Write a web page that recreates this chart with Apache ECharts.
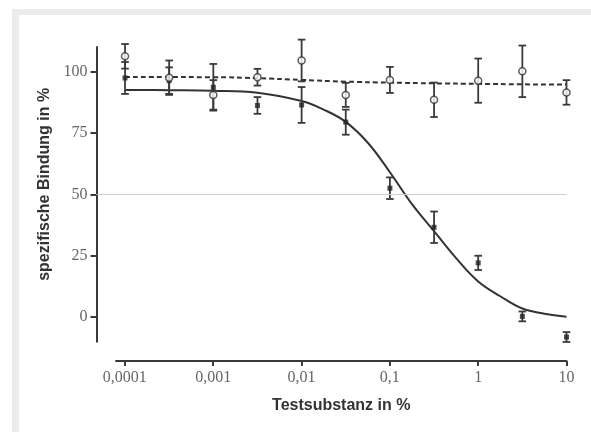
<!DOCTYPE html>
<html>
<head>
<meta charset="utf-8">
<script src="https://cdn.jsdelivr.net/npm/echarts@6/dist/echarts.min.js"></script>
<style>
  html, body { margin: 0; padding: 0; background: #fff; }
  .frame {
    position: absolute; left: 12px; top: 9px; right: 0; bottom: 0;
    border-top: 6px solid #ececec; border-left: 7px solid #ececec;
  }
  #chart { position: absolute; left: 0; top: 0; width: 591px; height: 432px; }
</style>
</head>
<body>
<div class="frame"></div>
<div id="chart"></div>
<script>
// Konzentrationen als log10-Werte (0,0001 ... 10 %, halbe Dekaden)
const logConc = [-4, -3.5, -3, -2.5, -2, -1.5, -1, -0.5, 0, 0.5, 1]

// gefüllte Quadrate (Mittelwert, Fehler)
const filledMean = [97.4, 96.3, 93.6, 86.2, 86.4, 79.4, 52.5, 36.6, 22.1, 0.3, -8.1]
const filledErr = [6.5, 5.4, 9.5, 3.4, 7.3, 5.1, 4.4, 6.4, 2.9, 2.0, 2.0]

// offene Kreise (Mittelwert, Fehler)
const openMean = [106.2, 97.5, 90.5, 97.7, 104.5, 90.5, 96.6, 88.5, 96.3, 100.1, 91.5]
const openErr = [5.0, 7.0, 6.0, 3.4, 8.5, 4.9, 5.3, 7.0, 9.0, 10.5, 5.0]

// Kurven
const fitX = [-4, -3.5, -3, -2.5, -2, -1.75, -1.5, -1.25, -1, -0.75, -0.5, -0.25, 0, 0.25, 0.5, 0.75, 1]
const fitSolid = [92.5, 92.4, 92.2, 91.4, 88.0, 84.5, 79.5, 71.0, 59.0, 46.0, 35.0, 24.0, 14.5, 8.5, 3.5, 1.4, 0.2]
const fitDashX = [-4, -3, -2.5, -2, -1.5, -1, -0.5, 0, 0.5, 1]
const fitDashed = [97.8, 97.7, 97.3, 96.6, 95.9, 95.5, 95.2, 95.0, 94.8, 94.7]

// Achsen
const xTickValues = [-4, -3, -2, -1, 0, 1]
const xTickLabels = ['0,0001', '0,001', '0,01', '0,1', '1', '10']
const yTickValues = [0, 25, 50, 75, 100]

const chart = echarts.init(document.getElementById('chart'))

const zip = (xs, ys) => xs.map((x, i) => [x, ys[i]])
const zip3 = (xs, ys, es) => xs.map((x, i) => [x, ys[i], es[i]])

const errorBars = (data) => ({
  type: 'custom',
  xAxisIndex: 0,
  yAxisIndex: 0,
  z: 3,
  data: data,
  renderItem: (params, api) => {
    const x = api.value(0)
    const y = api.value(1)
    const e = api.value(2)
    const top = api.coord([x, y + e])
    const bot = api.coord([x, y - e])
    const w = 3.8
    const style = { stroke: '#3a3a3a', lineWidth: 1.8 }
    return {
      type: 'group',
      children: [
        { type: 'line', shape: { x1: top[0], y1: top[1], x2: bot[0], y2: bot[1] }, style },
        { type: 'line', shape: { x1: top[0] - w, y1: top[1], x2: top[0] + w, y2: top[1] }, style },
        { type: 'line', shape: { x1: bot[0] - w, y1: bot[1], x2: bot[0] + w, y2: bot[1] }, style }
      ]
    }
  }
})

const labelFont = {
  color: '#666',
  fontFamily: 'Liberation Serif',
  fontSize: 16
}

const nameFont = {
  color: '#333',
  fontFamily: 'Liberation Sans',
  fontWeight: 'bold',
  fontSize: 16
}

const option = {
  animation: false,
  grid: [
    { left: 96.5, right: 24.5, top: 47, bottom: 90.3 },
    { left: 116, right: 24.5, top: 47, bottom: 90.3 }
  ],
  xAxis: [
    { type: 'value', gridIndex: 0, min: -4.323, max: 1, show: false },
    {
      type: 'value',
      gridIndex: 1,
      min: -4.1,
      max: 1,
      offset: 19.3,
      name: 'Testsubstanz in %',
      nameLocation: 'middle',
      nameGap: 37,
      nameTextStyle: nameFont,
      axisLine: { onZero: false, lineStyle: { color: '#3a3a3a', width: 2 } },
      axisTick: { customValues: xTickValues, length: 5, lineStyle: { color: '#3a3a3a', width: 2 } },
      axisLabel: {
        customValues: xTickValues,
        margin: 9,
        ...labelFont,
        formatter: (v) => xTickLabels[xTickValues.indexOf(v)]
      },
      splitLine: { show: false }
    }
  ],
  yAxis: [
    {
      type: 'value',
      gridIndex: 0,
      min: -10,
      max: 110,
      name: 'spezifische Bindung in %',
      nameLocation: 'middle',
      nameGap: 41,
      nameTextStyle: { ...nameFont, padding: [0, 0, 0, 20] },
      axisLine: { show: true, onZero: false, lineStyle: { color: '#3a3a3a', width: 2 } },
      axisTick: { show: true, customValues: yTickValues, length: 6, lineStyle: { color: '#3a3a3a', width: 2 } },
      axisLabel: { customValues: yTickValues, margin: 9, ...labelFont },
      splitLine: { show: false }
    },
    { type: 'value', gridIndex: 1, min: -10, max: 110, show: false }
  ],
  series: [
    {
      type: 'line',
      xAxisIndex: 0,
      yAxisIndex: 0,
      data: zip(fitDashX, fitDashed),
      smooth: true,
      showSymbol: false,
      z: 1,
      lineStyle: { color: '#333', width: 2, type: [5, 3] },
      markLine: {
        silent: true,
        symbol: 'none',
        label: { show: false },
        lineStyle: { color: '#cfcfcf', width: 1, type: 'solid' },
        data: [{ yAxis: 50 }]
      }
    },
    {
      type: 'line',
      xAxisIndex: 0,
      yAxisIndex: 0,
      data: zip(fitX, fitSolid),
      smooth: 0.4,
      showSymbol: false,
      z: 2,
      lineStyle: { color: '#333', width: 2 }
    },
    errorBars(zip3(logConc, filledMean, filledErr)),
    errorBars(zip3(logConc, openMean, openErr)),
    {
      type: 'scatter',
      xAxisIndex: 0,
      yAxisIndex: 0,
      data: zip(logConc, filledMean),
      symbol: 'rect',
      symbolSize: 5,
      z: 4,
      itemStyle: { color: '#222' }
    },
    {
      type: 'scatter',
      xAxisIndex: 0,
      yAxisIndex: 0,
      data: zip(logConc, openMean),
      symbol: 'circle',
      symbolSize: 7,
      z: 5,
      itemStyle: { color: '#fff', borderColor: '#333', borderWidth: 1.5 }
    }
  ]
}

chart.setOption(option)
</script>
</body>
</html>
